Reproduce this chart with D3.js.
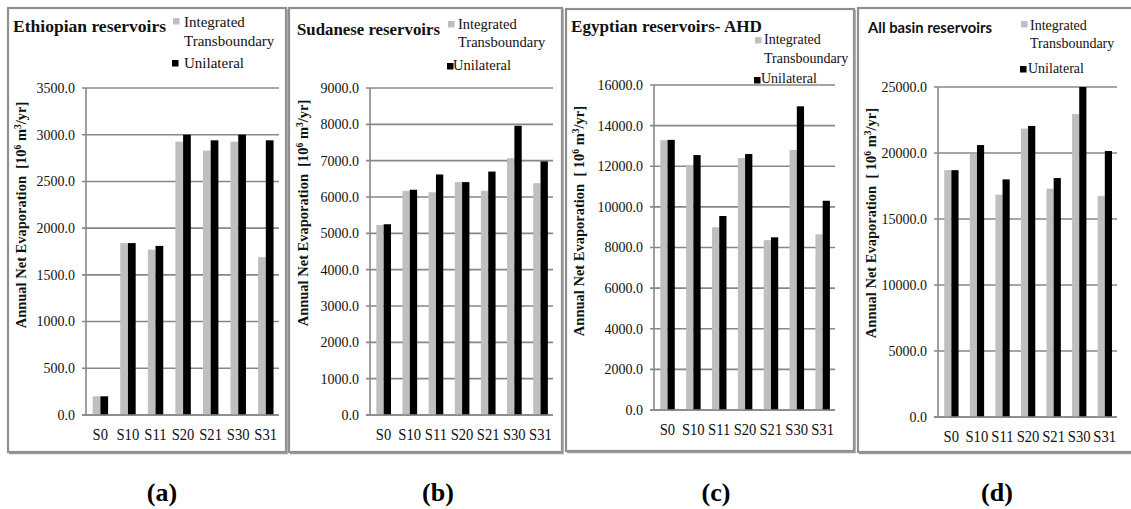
<!DOCTYPE html>
<html>
<head>
<meta charset="utf-8">
<script src="https://cdn.jsdelivr.net/npm/d3@7/dist/d3.min.js"></script>
<style>
  html, body { margin: 0; padding: 0; background: #fff; }
  svg { display: block; }
  text { white-space: pre; }
  .serif { font-family: "Liberation Serif", "Times New Roman", Times, "DejaVu Serif", "Noto Serif", serif; }
  .sans { font-family: Lato, "Liberation Sans", "DejaVu Sans", sans-serif; }
</style>
</head>
<body>
<svg id="chart" width="1131" height="509"></svg>
<script>
// Scenario categories shared by all four panels
const scenarios = ["S0", "S10", "S11", "S20", "S21", "S30", "S31"];

// Annual net evaporation, 10^6 m3/yr
const ethiopianIntegrated = [200, 1840, 1770, 2925, 2830, 2925, 1690];
const ethiopianUnilateral = [200, 1840, 1810, 3000, 2940, 3000, 2940];

const sudaneseIntegrated = [5230, 6170, 6130, 6410, 6170, 7070, 6380];
const sudaneseUnilateral = [5250, 6200, 6620, 6410, 6700, 7960, 6980];

const egyptianIntegrated = [13280, 12050, 9000, 12400, 8360, 12800, 8650];
const egyptianUnilateral = [13300, 12550, 9550, 12600, 8500, 14950, 10300];

const basinIntegrated = [18700, 19950, 16850, 21850, 17300, 22950, 16750];
const basinUnilateral = [18700, 20600, 18000, 22050, 18100, 25000, 20150];

// Value-axis ticks per panel
const ethiopianTicks = [0, 500, 1000, 1500, 2000, 2500, 3000, 3500];
const sudaneseTicks = [0, 1000, 2000, 3000, 4000, 5000, 6000, 7000, 8000, 9000];
const egyptianTicks = [0, 2000, 4000, 6000, 8000, 10000, 12000, 14000, 16000];
const basinTicks = [0, 5000, 10000, 15000, 20000, 25000];

const seriesNames = ["Integrated", "Unilateral"];
const seriesColors = ["#bfbfbf", "#000000"];

const GRID = "#878787";

const panels = [
  {
    title: "Ethiopian reservoirs", titleClass: "serif", titleSize: 17, titleLen: 153,
    titleX: 13, titleY: 32,
    integrated: ethiopianIntegrated, unilateral: ethiopianUnilateral, ticks: ethiopianTicks,
    frame: [8, 8, 286, 452],
    plot: { left: 86, right: 279, top: 88, bottom: 415 },
    legend: { size: 15, sqX: [173, 172], sqY: [18, 60], tx: [184, 184], ty: [27, 46, 68] },
    yLabel: { x: 26, y: 215, bracket: "[10" },
    caption: "(a)", capX: 162
  },
  {
    title: "Sudanese reservoirs", titleClass: "serif", titleSize: 17, titleLen: 143,
    titleX: 297, titleY: 35,
    integrated: sudaneseIntegrated, unilateral: sudaneseUnilateral, ticks: sudaneseTicks,
    frame: [289, 8, 562, 452],
    plot: { left: 370, right: 553, top: 88, bottom: 415 },
    legend: { size: 14.5, sqX: [448, 447], sqY: [21, 63], tx: [458, 453], ty: [29, 47, 70] },
    yLabel: { x: 308, y: 213, bracket: "[10" },
    caption: "(b)", capX: 438
  },
  {
    title: "Egyptian reservoirs- AHD", titleClass: "serif", titleSize: 17, titleLen: 191,
    titleX: 571, titleY: 32,
    integrated: egyptianIntegrated, unilateral: egyptianUnilateral, ticks: egyptianTicks,
    frame: [566, 9, 854, 451],
    plot: { left: 654, right: 835, top: 85, bottom: 410 },
    legend: { size: 14, sqX: [755, 754], sqY: [37, 77], tx: [764, 761], ty: [44, 63, 83] },
    yLabel: { x: 584, y: 221, bracket: "[ 10" },
    caption: "(c)", capX: 716
  },
  {
    title: "All basin reservoirs", titleClass: "sans", titleSize: 15.5, titleLen: 124,
    titleX: 868, titleY: 33,
    integrated: basinIntegrated, unilateral: basinUnilateral, ticks: basinTicks,
    frame: [858, 8, 1140, 452],
    plot: { left: 938, right: 1117, top: 87, bottom: 417 },
    legend: { size: 14, sqX: [1021, 1020], sqY: [21, 66], tx: [1030, 1028], ty: [30, 48, 73] },
    yLabel: { x: 876, y: 223, bracket: "[ 10" },
    caption: "(d)", capX: 997
  }
];

const svg = d3.select("#chart");

panels.forEach(p => {
  const g = svg.append("g");
  const [fx0, fy0, fx1, fy1] = p.frame;

  // panel frame
  g.append("rect")
    .attr("x", fx0).attr("y", fy0)
    .attr("width", fx1 - fx0).attr("height", fy1 - fy0)
    .attr("fill", "#fff")
    .attr("stroke", "#8f8f8f").attr("stroke-width", 2.2);
  // heavier right and bottom edges
  g.append("path")
    .attr("d", `M${fx1 + 1},${fy0 + 1}V${fy1 + 1.5}H${fx0 + 1}`)
    .attr("fill", "none").attr("stroke", "#9a9a9a").attr("stroke-width", 1.5);

  const x = d3.scaleBand().domain(scenarios).range([p.plot.left, p.plot.right]).paddingInner(0).paddingOuter(0);
  const y = d3.scaleLinear().domain([0, d3.max(p.ticks)]).range([p.plot.bottom, p.plot.top]);

  // horizontal gridlines with small outer ticks
  g.append("g").selectAll("line").data(p.ticks).join("line")
    .attr("x1", p.plot.left - 4).attr("x2", p.plot.right)
    .attr("y1", d => y(d)).attr("y2", d => y(d))
    .attr("stroke", GRID).attr("stroke-width", 1.6);

  // value axis line
  g.append("line")
    .attr("x1", p.plot.left).attr("x2", p.plot.left)
    .attr("y1", p.plot.top).attr("y2", p.plot.bottom)
    .attr("stroke", GRID).attr("stroke-width", 1.6);

  // tick labels
  g.append("g").selectAll("text").data(p.ticks).join("text")
    .attr("class", "serif")
    .attr("x", p.plot.left - 11).attr("y", d => y(d))
    .attr("dy", "0.35em")
    .attr("text-anchor", "end")
    .attr("font-size", 14)
    .attr("fill", "#111")
    .text(d => d3.format(".1f")(d));

  // bars
  const bw = x.bandwidth() * 0.28;
  const rows = scenarios.map((s, i) => ({ s, vals: [p.integrated[i], p.unilateral[i]] }));
  const grp = g.append("g").selectAll("g").data(rows).join("g");
  grp.selectAll("rect").data(d => d.vals.map((v, k) => ({ s: d.s, v, k }))).join("rect")
    .attr("x", d => x(d.s) + x.bandwidth() / 2 - bw + d.k * bw + 0.6)
    .attr("width", bw)
    .attr("y", d => y(d.v))
    .attr("height", d => y(0) - y(d.v))
    .attr("fill", d => seriesColors[d.k]);

  // redraw baseline over bars
  g.append("line")
    .attr("x1", p.plot.left - 4).attr("x2", p.plot.right)
    .attr("y1", y(0)).attr("y2", y(0))
    .attr("stroke", GRID).attr("stroke-width", 1.6);

  // category labels
  g.append("g").selectAll("text").data(scenarios).join("text")
    .attr("class", "serif")
    .attr("transform", d => `translate(${x(d) + x.bandwidth() / 2 + 0.5},${p.plot.bottom + 25}) scale(0.86,1)`)
    .attr("text-anchor", "middle")
    .attr("font-size", 17)
    .attr("fill", "#111")
    .text(d => d);

  // title
  g.append("text")
    .attr("class", p.titleClass)
    .attr("x", p.titleX).attr("y", p.titleY)
    .attr("font-weight", 700)
    .attr("font-size", p.titleSize)
    .attr("textLength", p.titleLen).attr("lengthAdjust", "spacingAndGlyphs")
    .attr("fill", "#111")
    .text(p.title);

  // legend
  const L = p.legend;
  [0, 1].forEach(k => {
    g.append("rect")
      .attr("x", L.sqX[k]).attr("y", L.sqY[k])
      .attr("width", 6.5).attr("height", 6.5)
      .attr("fill", seriesColors[k]);
  });
  const lt = g.append("g")
    .attr("class", "serif").attr("font-size", L.size).attr("fill", "#111");
  lt.append("text").attr("x", L.tx[0]).attr("y", L.ty[0]).text(seriesNames[0]);
  lt.append("text").attr("x", L.tx[0]).attr("y", L.ty[1]).text("Transboundary");
  lt.append("text").attr("x", L.tx[1]).attr("y", L.ty[2]).text(seriesNames[1]);

  // rotated value-axis title
  const yl = g.append("text")
    .attr("class", "serif")
    .attr("transform", `translate(${p.yLabel.x},${p.yLabel.y}) rotate(-90)`)
    .attr("text-anchor", "middle")
    .attr("font-weight", 700).attr("font-size", 14.5)
    .attr("fill", "#111");
  yl.append("tspan").text("Annual Net Evaporation  " + p.yLabel.bracket);
  yl.append("tspan").attr("dy", -5).attr("font-size", 9.5).text("6");
  yl.append("tspan").attr("dy", 5).text(" m");
  yl.append("tspan").attr("dy", -5).attr("font-size", 9.5).text("3");
  yl.append("tspan").attr("dy", 5).text("/yr]");

  // sub-figure caption
  svg.append("text")
    .attr("class", "serif")
    .attr("x", p.capX).attr("y", 501)
    .attr("text-anchor", "middle")
    .attr("font-weight", 700).attr("font-size", 26)
    .attr("fill", "#000")
    .text(p.caption);
});
</script>
</body>
</html>
